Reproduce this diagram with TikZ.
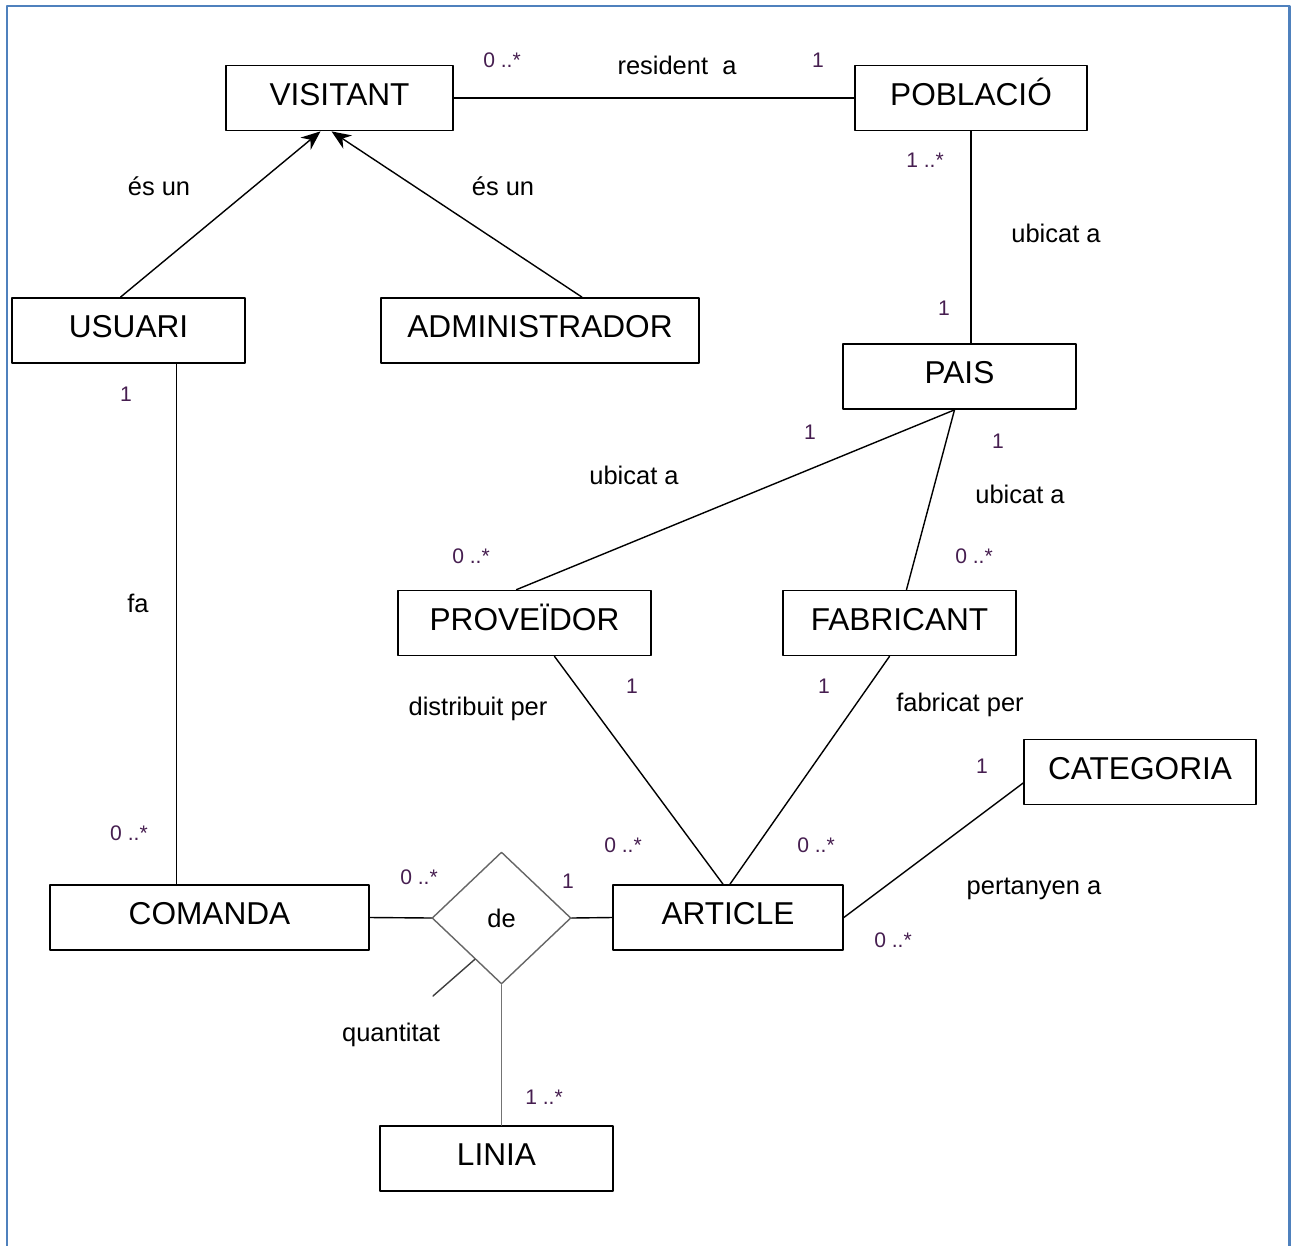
\documentclass[tikz,border=0pt]{standalone}
\usepackage{fontspec}
\setmainfont{Liberation Sans}
\usetikzlibrary{arrows.meta,shapes.geometric,calc}
\definecolor{frameblue}{RGB}{79,129,189}
\definecolor{multcol}{RGB}{70,30,80}
\tikzset{>={Stealth[length=11pt,width=9pt]},
every picture/.append style={
    line join=round,
    line cap=round,
    thick
  },
entity/.style={draw,rectangle,line width=1pt,minimum height=1.3cm,inner sep=0pt,text height=1.55ex,text depth=0pt,font=\fontsize{18}{20}\selectfont},
rellabel/.style={font=\fontsize{14.5}{16}\selectfont},
multlabel/.style={text=multcol,font=\fontsize{12}{14}\selectfont}}

\begin{document}
\begin{tikzpicture}[x=0.02cm,y=-0.02cm]
    \useasboundingbox (0,0) rectangle (1292,1245);
    \draw [frameblue,line width=1.7pt,line cap=butt] (7,1250) -- (7,6) -- (1289,6) -- (1289,1250);
    % entitats
    \node [entity,minimum width=4.54cm] (visitant) at (339.5,98) {VISITANT};
    \node [entity,minimum width=4.64cm] (poblacio) at (971,98) {POBLACIÓ};
    \node [entity,minimum width=4.66cm] (usuari) at (128.5,330.5) {USUARI};
    \node [entity,minimum width=6.36cm] (admin) at (540,330.5) {ADMINISTRADOR};
    \node [entity,minimum width=4.66cm] (pais) at (959.5,376.5) {PAIS};
    \node [entity,minimum width=5.06cm] (proveidor) at (524.5,623) {PROVEÏDOR};
    \node [entity,minimum width=4.66cm] (fabricant) at (899.5,623) {FABRICANT};
    \node [entity,minimum width=4.64cm] (categoria) at (1140,772) {CATEGORIA};
    \node [entity,minimum width=6.38cm] (comanda) at (209.5,917.5) {COMANDA};
    \node [entity,minimum width=4.6cm] (article) at (728,917.5) {ARTICLE};
    \node [entity,minimum width=4.66cm] (linia) at (496.5,1158.5) {LINIA};
    \node [draw=black!60,diamond,minimum width=2.78cm,minimum height=2.64cm,inner sep=0pt,font=\fontsize{14.5}{16}\selectfont] (de) at (501.5,918) {de};
    % connexions
    \draw [->] ($(usuari.north)+(-8,0)$) -- ($(visitant.south)+(-19,0)$);
    \draw [->] ($(admin.north)+(42,0)$) -- ($(visitant.south)+(-8,0)$);
    \draw (visitant.east) -- (poblacio.west);
    \draw (poblacio.south) -- (poblacio.south |- pais.north);
    \draw ($(pais.south)+(-5,0)$) -- ($(proveidor.north)+(-8,0)$);
    \draw ($(pais.south)+(-5,0)$) -- ($(fabricant.north)+(7,0)$);
    \draw ($(proveidor.south)+(30,0)$) -- ($(article.north)+(-5,0)$);
    \draw ($(fabricant.south)+(-10,0)$) -- ($(article.north)+(2,0)$);
    \draw ($(categoria.west)+(0,11)$) -- (article.east);
    \coordinate (u1) at ($(usuari.south)+(48,0)$);
    \draw (u1) -- (u1 |- comanda.north);
    \draw (comanda.east) -- (de.west);
    \draw (de.east) -- (article.west);
    \draw [black!55] (de.south) -- (de.south |- linia.north);
    \coordinate (q1) at (433,996);
    \draw [black!75] (q1) -- ($(de.west)!0.62!(de.south)$);
    % etiquetes
    \node [rellabel] (r1) at (677,65) {resident\ \ a};
    \node [rellabel] (r2) at (159,186) {és un};
    \node [rellabel] (r3) at (503,186) {és un};
    \node [rellabel] (r4) at (1056,233) {ubicat a};
    \node [rellabel] (r5) at (634,475) {ubicat a};
    \node [rellabel] (r6) at (1020,494) {ubicat a};
    \node [rellabel] (r7) at (138,603) {fa};
    \node [rellabel] (r8) at (478,709) {distribuit per};
    \node [rellabel] (r9) at (960,705) {fabricat per};
    \node [rellabel] (r10) at (1034,889) {pertanyen a};
    \node [rellabel] (r11) at (391,1035) {quantitat};
    % multiplicitats
    \node [multlabel] (m1) at (502,60) {0 ..*};
    \node [multlabel] (m2) at (818,60) {1};
    \node [multlabel] (m3) at (925,160) {1 ..*};
    \node [multlabel] (m4) at (944,308) {1};
    \node [multlabel] (m5) at (126,394) {1};
    \node [multlabel] (m6) at (810,432) {1};
    \node [multlabel] (m7) at (998,441) {1};
    \node [multlabel] (m8) at (471,556) {0 ..*};
    \node [multlabel] (m9) at (974,556) {0 ..*};
    \node [multlabel] (m10) at (632,686) {1};
    \node [multlabel] (m11) at (824,686) {1};
    \node [multlabel] (m12) at (982,766) {1};
    \node [multlabel] (m13) at (129,833) {0 ..*};
    \node [multlabel] (m14) at (623,845) {0 ..*};
    \node [multlabel] (m15) at (816,845) {0 ..*};
    \node [multlabel] (m16) at (419,877) {0 ..*};
    \node [multlabel] (m17) at (568,881) {1};
    \node [multlabel] (m18) at (893,940) {0 ..*};
    \node [multlabel] (m19) at (544,1097) {1 ..*};
\end{tikzpicture}
\end{document}
